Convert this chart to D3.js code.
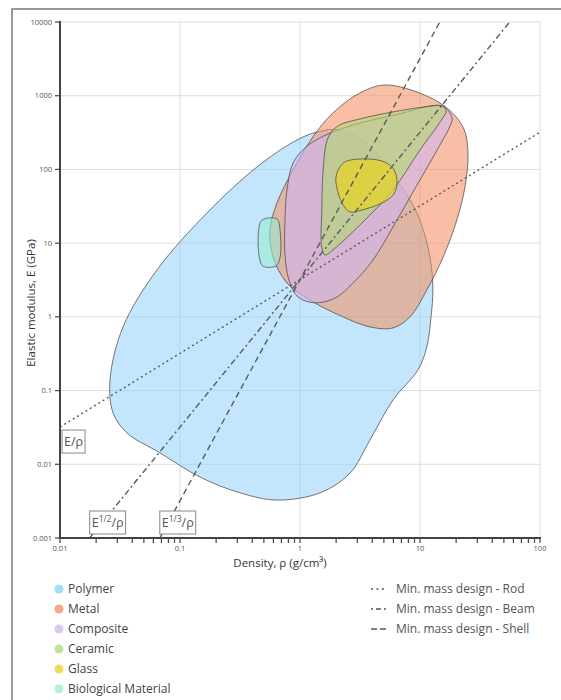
<!DOCTYPE html>
<html>
<head>
<meta charset="utf-8">
<script src="https://cdn.jsdelivr.net/npm/d3@7"></script>
<style>
  html, body { margin: 0; padding: 0; background: #fff; }
  svg { display: block; font-family: "Open Sans", "Noto Sans", sans-serif; }
</style>
</head>
<body>
<svg id="chart" width="561" height="700"></svg>
<script>
// ---- Data -------------------------------------------------------------
// Material families: outlines in (density g/cm³, modulus GPa)
const categories = ["Polymer", "Metal", "Composite", "Ceramic", "Glass", "Biological Material"];
const colors = ["#87cefa", "#f48a5c", "#cfb5f0", "#b0d872", "#e5d228", "#98edd2"];
const fillOpacity = [0.5, 0.55, 0.6, 0.6, 0.75, 0.6];

const polymerOutline = [
  [1.39, 322], [2.15, 344], [3.48, 236], [5.96, 84], [9.44, 25.7], [12.1, 6.5],
  [12.8, 2.32], [12.4, 1.06], [11.4, 0.39], [9.6, 0.19], [5.96, 0.0747], [3.83, 0.0214],
  [2.61, 0.0076], [1.47, 0.0041], [0.643, 0.00327], [0.316, 0.0041], [0.147, 0.0067],
  [0.068, 0.0143], [0.0362, 0.0266], [0.0277, 0.0497], [0.0261, 0.139], [0.0335, 0.73],
  [0.0643, 4.33], [0.168, 25.7], [0.438, 108], [0.944, 251]
];
const metalOutline = [
  [5.31, 1400], [14.7, 795], [22.8, 377], [25.1, 167], [23.7, 57.9], [20.3, 20.7],
  [15.6, 6.5], [11.4, 2.32], [8.26, 1.0], [5.96, 0.708], [3.83, 0.73], [2.28, 1.0],
  [1.21, 1.69], [0.779, 2.88], [0.596, 6.5], [0.562, 15.1], [0.643, 35.1], [0.875, 98.4],
  [1.28, 276], [1.88, 583], [3.16, 1090]
];
const compositeOutline = [
  [0.875, 122], [1.10, 196], [1.52, 276], [2.61, 389], [6.19, 547], [15.3, 725],
  [18.5, 499], [17.8, 389], [13.9, 184], [8.75, 49.5], [5.96, 16.6], [4.06, 5.92],
  [2.77, 2.88], [1.96, 1.80], [1.33, 1.55], [0.962, 1.86], [0.809, 3.17], [0.75, 6.92],
  [0.75, 20.6], [0.779, 52.6]
];
const ceramicOutline = [
  [1.71, 267], [2.07, 389], [3.16, 484], [5.96, 603], [11.0, 705], [15.3, 725],
  [16.5, 621], [14.7, 441], [10.0, 184], [5.96, 52.6], [3.16, 17.7], [1.88, 8.09],
  [1.62, 6.92], [1.52, 8.61], [1.52, 28.2], [1.56, 98.4]
];
const glassOutline = [
  [2.46, 130], [4.47, 134], [5.84, 108], [6.43, 72], [6.07, 46.5], [4.82, 35.1],
  [3.29, 28.2], [2.61, 26.5], [2.24, 35.1], [2.03, 56.1], [1.995, 79.1], [2.15, 108]
];
const biologicalOutline = [
  [0.483, 20.6], [0.643, 21.3], [0.681, 15.1], [0.681, 6.3], [0.631, 4.9],
  [0.49, 4.9], [0.455, 6.92], [0.455, 16.1]
];
const outlines = [polymerOutline, metalOutline, compositeOutline, ceramicOutline, glassOutline, biologicalOutline];

// Minimum-mass design guides: E = k · ρ^n
const guideNames = ["Min. mass design - Rod", "Min. mass design - Beam", "Min. mass design - Shell"];
const guideExponents = [1, 2, 3];
const guideConstant = 3.2;
const guideDashes = ["2,3", "6,3,2,3", "6,4"];
const guideLabels = [["E", "", "/ρ"], ["E", "1/2", "/ρ"], ["E", "1/3", "/ρ"]];

// Axis ticks
const xTicks = [0.01, 0.1, 1, 10, 100];
const xTickLabels = ["0.01", "0.1", "1", "10", "100"];
const yTicks = [0.001, 0.01, 0.1, 1, 10, 100, 1000, 10000];
const yTickLabels = ["0.001", "0.01", "0.1", "1", "10", "100", "1000", "10000"];

// ---- Layout -----------------------------------------------------------
const svg = d3.select("#chart");
const plot = { left: 60, right: 540, top: 22, bottom: 538 };

const x = d3.scaleLog().domain([0.01, 100]).range([plot.left, plot.right]);
const y = d3.scaleLog().domain([0.001, 10000]).range([plot.bottom, plot.top]);

// Card frame
svg.append("path")
  .attr("d", `M12,700 L12,9 L561,9`)
  .attr("fill", "none").attr("stroke", "#9a9a9a").attr("stroke-width", 2);

svg.append("defs").append("clipPath").attr("id", "plotClip")
  .append("rect")
  .attr("x", plot.left).attr("y", plot.top)
  .attr("width", plot.right - plot.left).attr("height", plot.bottom - plot.top);

// Grid
const grid = svg.append("g");
grid.selectAll("line.gx").data(xTicks.slice(1)).join("line")
  .attr("x1", d => x(d)).attr("x2", d => x(d))
  .attr("y1", plot.top).attr("y2", plot.bottom)
  .attr("stroke", "#dedede").attr("stroke-width", 1);
grid.selectAll("line.gy").data(yTicks.slice(1)).join("line")
  .attr("x1", plot.left).attr("x2", plot.right)
  .attr("y1", d => y(d)).attr("y2", d => y(d))
  .attr("stroke", "#dedede").attr("stroke-width", 1);

// Material regions
const area = d3.line()
  .x(d => x(d[0])).y(d => y(d[1]))
  .curve(d3.curveCatmullRomClosed.alpha(0.5));

const regions = svg.append("g").attr("clip-path", "url(#plotClip)");
outlines.forEach((pts, i) => {
  regions.append("path")
    .attr("d", area(pts))
    .attr("fill", colors[i]).attr("fill-opacity", fillOpacity[i])
    .attr("stroke", "#4a4a4a").attr("stroke-opacity", 0.75).attr("stroke-width", 1);
});

// Guide lines
const guides = svg.append("g").attr("clip-path", "url(#plotClip)");
const guideLine = d3.line().x(d => x(d[0])).y(d => y(d[1]));
guideExponents.forEach((n, i) => {
  const rhoLow = Math.max(0.01, Math.pow(0.001 / guideConstant, 1 / n));
  const rhoHigh = Math.min(100, Math.pow(10000 / guideConstant, 1 / n));
  const pts = [[rhoLow, guideConstant * Math.pow(rhoLow, n)], [rhoHigh, guideConstant * Math.pow(rhoHigh, n)]];
  guides.append("path")
    .attr("d", guideLine(pts))
    .attr("fill", "none").attr("stroke", "#5a5a5a").attr("stroke-width", 1.4)
    .attr("stroke-dasharray", guideDashes[i]);
});

// Guide annotations at the lower start of each line
const notes = svg.append("g");
guideExponents.forEach((n, i) => {
  const rhoLow = Math.max(0.01, Math.pow(0.001 / guideConstant, 1 / n));
  const px = x(rhoLow), py = y(guideConstant * Math.pow(rhoLow, n));
  const g = notes.append("g");
  const t = g.append("text").attr("font-size", 12.5).attr("fill", "#555");
  t.append("tspan").text(guideLabels[i][0]);
  if (guideLabels[i][1]) {
    t.append("tspan").attr("font-size", 8.5).attr("dy", -5).text(guideLabels[i][1]);
    t.append("tspan").attr("dy", 5).text(guideLabels[i][2]);
  } else {
    t.append("tspan").text(guideLabels[i][2]);
  }
  const bb = t.node().getBBox();
  const w = bb.width + 4, h = 23;
  let bx, by;
  if (n === 1) { bx = px + 2; by = py + 3; }
  else { bx = px; by = py - 4 - h; }
  t.attr("x", bx + 2).attr("y", by + 16);
  t.selectAll("tspan").filter((d, k) => k === 0).attr("x", bx + 2);
  g.insert("rect", "text")
    .attr("x", bx).attr("y", by).attr("width", w).attr("height", h)
    .attr("fill", "#fff").attr("stroke", "#888").attr("stroke-width", 1);
});

// Axes
const xAxisG = svg.append("g").attr("transform", `translate(0,${plot.bottom})`);
const minorX = [];
[0.01, 0.1, 1, 10].forEach(d => { for (let k = 2; k <= 9; k++) minorX.push(d * k); });
xAxisG.selectAll("line.tick").data(xTicks.concat(minorX)).join("line")
  .attr("x1", d => x(d)).attr("x2", d => x(d)).attr("y1", 0).attr("y2", 5)
  .attr("stroke", "#444").attr("stroke-width", 1.2);
xAxisG.append("line").attr("x1", plot.left - 1).attr("x2", plot.right + 1)
  .attr("stroke", "#444").attr("stroke-width", 2);
xAxisG.selectAll("text").data(xTicks).join("text")
  .attr("x", d => x(d)).attr("y", 12.5).attr("text-anchor", "middle")
  .attr("font-size", 7.5).attr("fill", "#555")
  .text((d, i) => xTickLabels[i]);

const yAxisG = svg.append("g").attr("transform", `translate(${plot.left},0)`);
yAxisG.selectAll("line.tick").data(yTicks).join("line")
  .attr("x1", -5).attr("x2", 0).attr("y1", d => y(d)).attr("y2", d => y(d))
  .attr("stroke", "#444").attr("stroke-width", 1.2);
yAxisG.append("line").attr("y1", plot.top - 1).attr("y2", plot.bottom + 1)
  .attr("stroke", "#444").attr("stroke-width", 2);
yAxisG.selectAll("text").data(yTicks).join("text")
  .attr("x", -8).attr("y", d => y(d) + 2.6).attr("text-anchor", "end")
  .attr("font-size", 7.5).attr("fill", "#555")
  .text((d, i) => yTickLabels[i]);

// Axis titles
svg.append("text").attr("x", 280).attr("y", 567).attr("text-anchor", "middle")
  .attr("font-size", 11.5).attr("fill", "#333").text("Density, ρ (g/cm³)");
svg.append("text").attr("transform", "translate(35,303) rotate(-90)")
  .attr("text-anchor", "middle").attr("font-size", 11.5).attr("fill", "#333")
  .text("Elastic modulus, E (GPa)");

// Legend: material families
const legendL = svg.append("g");
categories.forEach((c, i) => {
  const ly = 589 + i * 20;
  legendL.append("circle").attr("cx", 59).attr("cy", ly).attr("r", 4.5)
    .attr("fill", colors[i]).attr("fill-opacity", 0.75);
  legendL.append("text").attr("x", 68).attr("y", ly + 4.3)
    .attr("font-size", 12).attr("fill", "#444").text(c);
});

// Legend: design guides
const legendR = svg.append("g");
guideNames.forEach((name, i) => {
  const ly = 589 + i * 20;
  legendR.append("line").attr("x1", 371).attr("x2", 386).attr("y1", ly).attr("y2", ly)
    .attr("stroke", "#555").attr("stroke-width", 1.4)
    .attr("stroke-dasharray", i === 0 ? "2,3.5" : i === 1 ? "2,3,5,3,2" : "6,3");
  legendR.append("text").attr("x", 396).attr("y", ly + 4.3)
    .attr("font-size", 12).attr("fill", "#555").text(name);
});
</script>
</body>
</html>
